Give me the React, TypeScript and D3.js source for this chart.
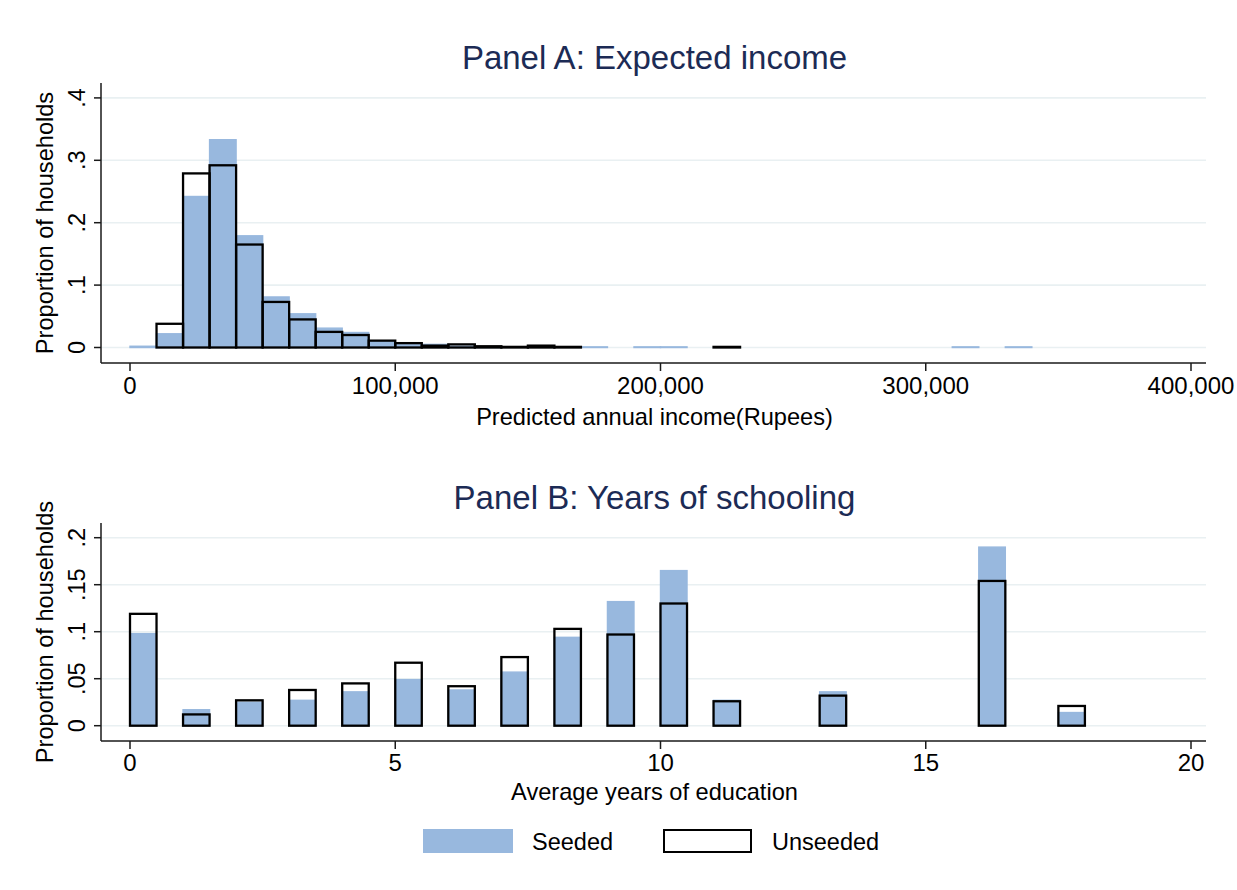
import * as d3 from "d3";

const FONT = "'Liberation Sans', Arial, Helvetica, sans-serif";
const SEEDED = "#98b8de";
const TITLE = "#1c2b55";
const GRID = "#e9f0f2";
const AXIS = "#1a1a1a";

// Panel A: histogram of predicted annual income, bins of 10,000 Rupees
const incomeBinWidth = 10000;
const seededIncomeBins = [0, 10000, 20000, 30000, 40000, 50000, 60000, 70000, 80000, 90000, 100000, 110000, 120000, 130000, 170000, 190000, 200000, 310000, 330000];
const seededIncomeShare = [0.002, 0.022, 0.242, 0.333, 0.179, 0.081, 0.054, 0.031, 0.024, 0.01, 0.005, 0.005, 0.002, 0.001, 0.001, 0.001, 0.001, 0.001, 0.001];
const unseededIncomeBins = [10000, 20000, 30000, 40000, 50000, 60000, 70000, 80000, 90000, 100000, 110000, 120000, 130000, 140000, 150000, 160000, 220000];
const unseededIncomeShare = [0.038, 0.279, 0.292, 0.165, 0.073, 0.045, 0.025, 0.02, 0.011, 0.007, 0.003, 0.005, 0.002, 0.001, 0.003, 0.001, 0.001];
const incomeXTicks = [0, 100000, 200000, 300000, 400000];
const incomeYTicks = [0, 0.1, 0.2, 0.3, 0.4];

// Panel B: histogram of average years of education, bins of 0.5 years
const schoolBinWidth = 0.5;
const schoolBins = [0, 1, 2, 3, 4, 5, 6, 7, 8, 9, 10, 11, 13, 16, 17.5];
const seededSchoolShare = [0.098, 0.017, 0.025, 0.027, 0.036, 0.049, 0.038, 0.057, 0.094, 0.132, 0.165, 0.027, 0.036, 0.19, 0.014];
const unseededSchoolShare = [0.119, 0.012, 0.027, 0.038, 0.045, 0.067, 0.042, 0.073, 0.103, 0.097, 0.13, 0.026, 0.032, 0.154, 0.021];
const schoolXTicks = [0, 5, 10, 15, 20];
const schoolYTicks = [0, 0.05, 0.1, 0.15, 0.2];

const legendLabels = ["Seeded", "Unseeded"];

// Stata style: drop the leading zero (".1", ".05")
const fmtShare = (v: number) => (v === 0 ? "0" : String(v).replace(/^0/, ""));

type PanelProps = {
  title: string;
  xLabel: string;
  xScale: d3.ScaleLinear<number, number>;
  yScale: d3.ScaleLinear<number, number>;
  xTicks: number[];
  yTicks: number[];
  xFormat: (v: number) => string;
  binWidth: number;
  seeded: { x: number; y: number }[];
  unseeded: { x: number; y: number }[];
  frame: { left: number; right: number; top: number; bottom: number };
  titleY: number;
  tickLabelY: number;
  xLabelY: number;
};

const Panel = (p: PanelProps) => {
  const { xScale, yScale, frame } = p;
  const base = yScale(0);
  const midY = (frame.top + frame.bottom) / 2;
  const cx = (frame.left + frame.right) / 2 + 1;
  return (
    <g>
      <text x={cx} y={p.titleY} textAnchor="middle" fontSize={33} fill={TITLE}>
        {p.title}
      </text>
      {p.yTicks.map((t) => (
        <line key={"g" + t} x1={frame.left} x2={frame.right} y1={yScale(t)} y2={yScale(t)} stroke={GRID} strokeWidth={1.6} />
      ))}
      {p.seeded.map((d, i) => (
        <rect
          key={"s" + i}
          x={xScale(d.x)}
          width={xScale(d.x + p.binWidth) - xScale(d.x)}
          y={yScale(d.y)}
          height={base - yScale(d.y)}
          fill={SEEDED}
          stroke={SEEDED}
          strokeWidth={1.4}
        />
      ))}
      {p.unseeded.map((d, i) => (
        <rect
          key={"u" + i}
          x={xScale(d.x)}
          width={xScale(d.x + p.binWidth) - xScale(d.x)}
          y={yScale(d.y)}
          height={base - yScale(d.y)}
          fill="none"
          stroke="#000"
          strokeWidth={2.3}
        />
      ))}
      {/* axes */}
      <line x1={frame.left} x2={frame.left} y1={frame.top} y2={frame.bottom} stroke={AXIS} strokeWidth={1.5} />
      <line x1={frame.left} x2={frame.right} y1={frame.bottom} y2={frame.bottom} stroke={AXIS} strokeWidth={1.5} />
      {p.yTicks.map((t) => (
        <g key={"y" + t}>
          <line x1={frame.left - 7} x2={frame.left} y1={yScale(t)} y2={yScale(t)} stroke={AXIS} strokeWidth={1.5} />
          <text
            transform={`translate(${frame.left - 16},${yScale(t)}) rotate(-90)`}
            textAnchor="middle"
            fontSize={23.5}
            fill="#000"
          >
            {fmtShare(t)}
          </text>
        </g>
      ))}
      {p.xTicks.map((t) => (
        <g key={"x" + t}>
          <line x1={xScale(t)} x2={xScale(t)} y1={frame.bottom} y2={frame.bottom + 8} stroke={AXIS} strokeWidth={1.5} />
          <text x={xScale(t)} y={p.tickLabelY} textAnchor="middle" fontSize={24} fill="#000">
            {p.xFormat(t)}
          </text>
        </g>
      ))}
      <text x={cx} y={p.xLabelY} textAnchor="middle" fontSize={23.6} fill="#000">
        {p.xLabel}
      </text>
      <text transform={`translate(53,${midY}) rotate(-90)`} textAnchor="middle" fontSize={23.6} fill="#000">
        Proportion of households
      </text>
    </g>
  );
};

export default function App() {
  const xA = d3.scaleLinear().domain([0, 400000]).range([130, 1191]);
  const yA = d3.scaleLinear().domain([0, 0.4]).range([347.5, 97.9]);
  const xB = d3.scaleLinear().domain([0, 20]).range([130, 1191]);
  const yB = d3.scaleLinear().domain([0, 0.2]).range([725.7, 537.7]);

  const seededA = seededIncomeBins.map((x, i) => ({ x, y: seededIncomeShare[i] }));
  const unseededA = unseededIncomeBins.map((x, i) => ({ x, y: unseededIncomeShare[i] }));
  const seededB = schoolBins.map((x, i) => ({ x, y: seededSchoolShare[i] }));
  const unseededB = schoolBins.map((x, i) => ({ x, y: unseededSchoolShare[i] }));

  return (
    <svg
      width={1237}
      height={890}
      style={{ position: "absolute", left: 0, top: 0, background: "#fff" }}
      fontFamily={FONT}
    >
      <rect width={1237} height={890} fill="#fff" />
      <Panel
        title="Panel A: Expected income"
        xLabel="Predicted annual income(Rupees)"
        xScale={xA}
        yScale={yA}
        xTicks={incomeXTicks}
        yTicks={incomeYTicks}
        xFormat={d3.format(",")}
        binWidth={incomeBinWidth}
        seeded={seededA}
        unseeded={unseededA}
        frame={{ left: 101, right: 1206, top: 83, bottom: 363 }}
        titleY={69}
        tickLabelY={394}
        xLabelY={425}
      />
      <Panel
        title="Panel B: Years of schooling"
        xLabel="Average years of education"
        xScale={xB}
        yScale={yB}
        xTicks={schoolXTicks}
        yTicks={schoolYTicks}
        xFormat={(v) => String(v)}
        binWidth={schoolBinWidth}
        seeded={seededB}
        unseeded={unseededB}
        frame={{ left: 101, right: 1206, top: 523, bottom: 741 }}
        titleY={509}
        tickLabelY={771}
        xLabelY={800}
      />
      {/* legend */}
      <rect x={423} y={829} width={90} height={24} fill={SEEDED} />
      <text x={532} y={850} fontSize={23.5} fill="#000">
        {legendLabels[0]}
      </text>
      <rect x={664} y={830} width={87} height={22} fill="none" stroke="#000" strokeWidth={2} />
      <text x={772} y={850} fontSize={23.5} fill="#000">
        {legendLabels[1]}
      </text>
    </svg>
  );
}
